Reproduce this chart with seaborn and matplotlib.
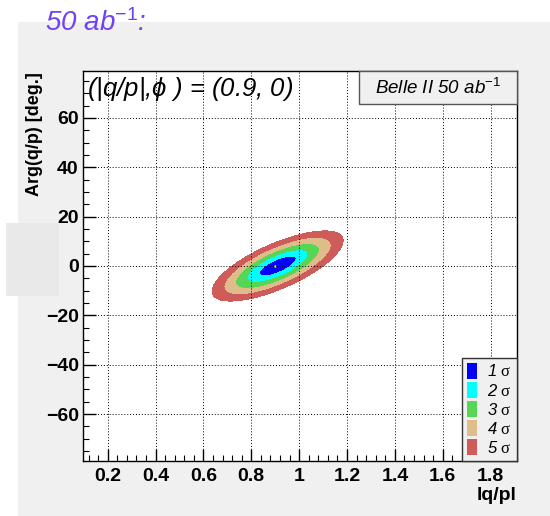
import numpy as np
import matplotlib
matplotlib.use("Agg")
import matplotlib.pyplot as plt
from matplotlib.patches import Rectangle, Patch
import seaborn as sns

# fit result
best_fit = (0.9, 0.0)          # |q/p|, arg(q/p) [deg]
ellipse_center = (0.91, 0.0)
sigma_qp = 0.051               # |q/p| resolution
sigma_phi = 2.65               # phase resolution [deg]
rho = 0.72                     # correlation

sigma_labels = ["1 $\\mathsf{\\sigma}$", "2 $\\mathsf{\\sigma}$", "3 $\\mathsf{\\sigma}$",
                "4 $\\mathsf{\\sigma}$", "5 $\\mathsf{\\sigma}$"]
chi2_levels = [0.0, 2.30, 6.18, 11.83, 19.33, 28.74]   # 2 dof
sigma_colors = ["#0000ff", "#00ffff", "#55d655", "#dfbd8a", "#d05b5b"]

x_ticks = [0.2, 0.4, 0.6, 0.8, 1.0, 1.2, 1.4, 1.6, 1.8]
x_ticklabels = ["0.2", "0.4", "0.6", "0.8", "1", "1.2", "1.4", "1.6", "1.8"]
y_ticks = [-60, -40, -20, 0, 20, 40, 60]

sns.set_theme(style="ticks")
plt.rcParams["font.family"] = ["Liberation Sans", "DejaVu Sans"]
plt.rcParams["mathtext.fontset"] = "custom"
plt.rcParams["mathtext.rm"] = "Liberation Sans"
plt.rcParams["mathtext.it"] = "Liberation Sans:italic"
plt.rcParams["mathtext.sf"] = "Liberation Serif"
for key in ["text.color", "axes.labelcolor", "xtick.color", "ytick.color",
            "xtick.labelcolor", "ytick.labelcolor"]:
    plt.rcParams[key] = "black"

fig = plt.figure(figsize=(5.5, 5.16), dpi=100)
fig.patch.set_facecolor("white")
W, H = 550, 516

# grey canvas
fig.patches.append(Rectangle((18 / W, 0), 532 / W, 494 / H, transform=fig.transFigure,
                             facecolor="#f0f0f0", edgecolor="none", zorder=-10))
fig.patches.append(Rectangle((6 / W, 1 - 296 / H), 53 / W, 73 / H, transform=fig.transFigure,
                             facecolor="#e9e9e9", edgecolor="none", zorder=-9))

ax = fig.add_axes([83 / W, 1 - 461 / H, 434 / W, 390 / H])
ax.set_facecolor("white")

# chi2 surface
qp = np.linspace(0.3, 1.5, 600)
phi = np.linspace(-30, 30, 600)
X, Y = np.meshgrid(qp, phi)
dx = (X - ellipse_center[0]) / sigma_qp
dy = (Y - ellipse_center[1]) / sigma_phi
chi2 = (dx ** 2 - 2 * rho * dx * dy + dy ** 2) / (1 - rho ** 2)
ax.contourf(X, Y, chi2, levels=chi2_levels, colors=sigma_colors, zorder=1)
ax.scatter([best_fit[0]], [best_fit[1]], s=3, color="yellow", zorder=2, linewidths=0)

ax.set_xlim(0.097, 1.91)
ax.set_ylim(-79, 79)
ax.set_xticks(x_ticks)
ax.set_xticklabels(x_ticklabels)
ax.set_yticks(y_ticks)
ax.set_xticks(np.arange(0.12, 1.9, 0.04), minor=True)
ax.set_yticks(np.arange(-75, 79, 5), minor=True)
ax.tick_params(which="major", direction="in", length=9, width=1, color="black",
               labelsize=14, labelcolor="black", pad=5, top=False, right=False)
ax.tick_params(which="minor", direction="in", length=4.5, width=0.8, color="black",
               top=False, right=False)
for lab in ax.get_xticklabels() + ax.get_yticklabels():
    lab.set_fontweight("bold")
ax.tick_params(axis="y", pad=3)

ax.set_axisbelow(False)
ax.grid(True, which="major", color="black", linestyle=(0, (1, 2)), linewidth=0.7)
for s in ax.spines.values():
    s.set_color("black")
    s.set_linewidth(1)

ax.text(0.01, 0.99, "(|q/p|,$\\phi$ ) = (0.9, 0)", transform=ax.transAxes,
        ha="left", va="top", fontsize=18.5, style="italic", zorder=4)

# Belle II box
ax.add_patch(Rectangle((276 / 434, 1 - 33 / 390), 158 / 434, 33 / 390, transform=ax.transAxes,
                       facecolor="#f0f0f0", edgecolor="#555555", linewidth=1, zorder=5,
                       clip_on=False))
ax.text((276 + 158 / 2) / 434, 1 - 17 / 390, "Belle II 50 ab$^{-1}$", transform=ax.transAxes,
        ha="center", va="center", fontsize=13.5, style="italic", zorder=6)

handles = [Patch(facecolor=c, edgecolor="none") for c in sigma_colors]
leg = ax.legend(handles, sigma_labels, loc="lower right", frameon=True, fancybox=False,
                borderaxespad=0, handlelength=0.6, handleheight=1.1, handletextpad=0.6,
                labelspacing=0.15, borderpad=0.3, prop={"style": "italic", "size": 12})
leg.get_frame().set_facecolor("#f0f0f0")
leg.get_frame().set_edgecolor("#333333")
leg.get_frame().set_alpha(1)
leg.set_zorder(6)

fig.text(35 / W, 1 - 72 / H, "Arg(q/p) [deg.]", rotation=90, ha="center", va="top",
         fontsize=13, fontweight="bold")
fig.text(516 / W, 1 - 496 / H, "lq/pl", ha="right", va="center", fontsize=14,
         fontweight="bold")
fig.text(45 / W, 1 - 31 / H, "50 ab$^{-1}$:", ha="left", va="baseline", fontsize=20,
         style="italic", color="#6f42f5")

fig.savefig("out.png", dpi=100)
